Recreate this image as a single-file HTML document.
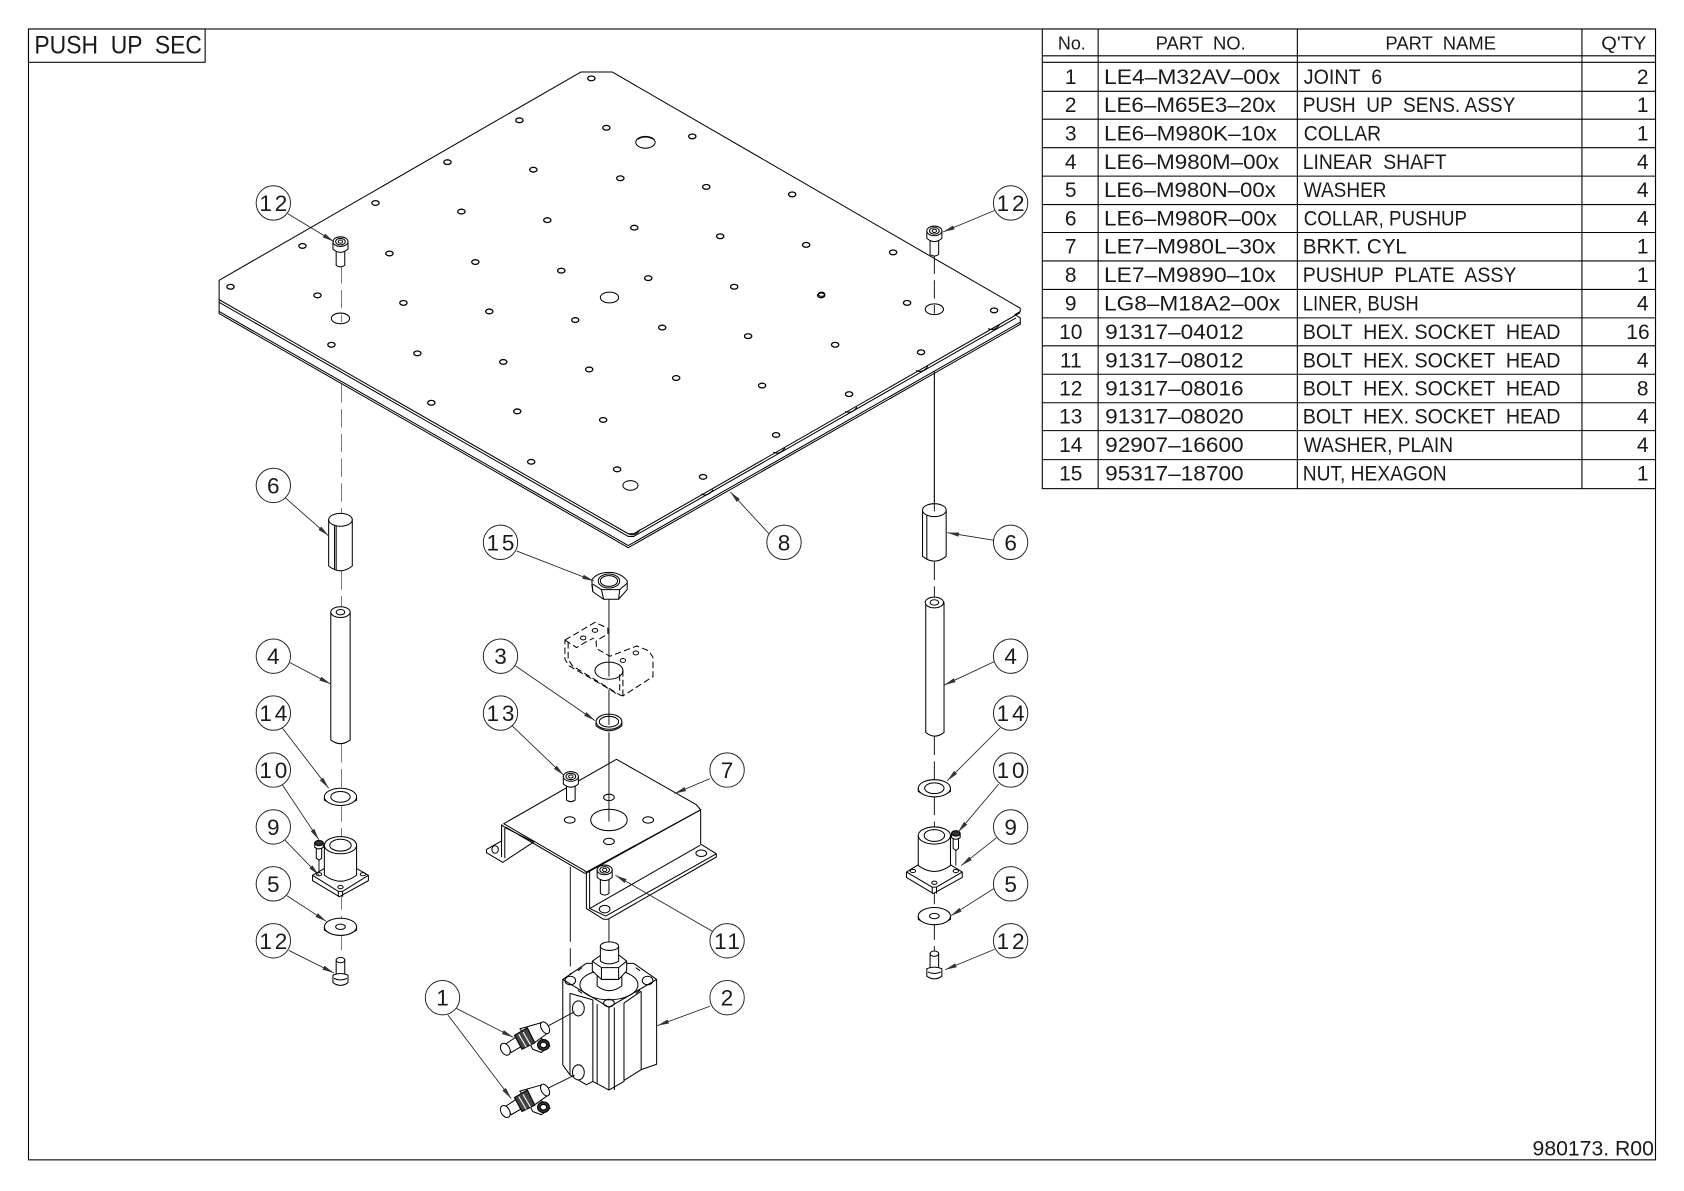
<!DOCTYPE html>
<html><head><meta charset="utf-8"><title>PUSH UP SEC</title>
<style>
html,body{margin:0;padding:0;background:#fff}
svg{display:block}
text{font-family:"Liberation Sans",sans-serif;fill:#1a1a1a;white-space:pre}
.t{font-size:19.5px}
.c{font-size:21px;text-anchor:middle}
.r{text-anchor:end}
.m{text-anchor:middle}
.l{fill:none;stroke:#000;stroke-width:.9}
.p{fill:#fff;stroke:#000;stroke-width:.95;stroke-linejoin:round}
.n{fill:none;stroke:#000;stroke-width:.95;stroke-linejoin:round}
.g{fill:none;stroke:#666;stroke-width:.8;stroke-dasharray:17 6}
.k{fill:none;stroke:#111;stroke-width:.9;stroke-dasharray:17 6}
.s{fill:none;stroke:#111;stroke-width:.9}
.d{fill:none;stroke:#000;stroke-width:.95;stroke-dasharray:6 3}
.b{fill:#fff;stroke:#222;stroke-width:.9}
.a{fill:none;stroke:#222;stroke-width:.8;marker-end:url(#ar)}
.tb{stroke:#000;stroke-width:1;fill:none}
</style></head><body>
<svg xmlns="http://www.w3.org/2000/svg" width="1684" height="1191" viewBox="0 0 1568 1109">
<defs>
<marker id="ar" markerUnits="userSpaceOnUse" markerWidth="12" markerHeight="6" refX="11" refY="3" orient="auto"><path d="M0,1 L11,3 L0,5 Z" fill="#333"/></marker>
<ellipse id="h" rx="3.4" ry="2.2" fill="#fff" stroke="#000" stroke-width="1.2"/>
<g id="boltT">
<path class="p" d="M-4,8 V21 Q0,24 4,21 V8 Z"/>
<path class="p" d="M-7,-1 V6 Q0,12 7,6 V-1 Z"/>
<ellipse class="p" cx="0" cy="-1" rx="7" ry="4.5"/>
<ellipse class="n" cx="0" cy="-1" rx="4.5" ry="3"/>
<ellipse class="n" cx="0" cy="-1" rx="2" ry="1.5"/>
</g>
<g id="boltS">
<path class="p" d="M-2.5,3 V13 L0,15 L2.5,13 V3 Z"/>
<path class="p" d="M-4,-1 V3 Q0,6 4,3 V-1 Z"/>
<ellipse fill="#333" stroke="#000" cx="0" cy="-1" rx="4" ry="2.5"/>
</g>
<g id="boltB">
<path class="p" d="M-4,-10 V6 H4 V-10 Z"/>
<ellipse class="p" cx="0" cy="-10" rx="4" ry="2.5"/>
<path class="p" d="M-7,4 V11 Q0,16 7,11 V4 Q0,1 -7,4 Z"/>
<path class="n" d="M-6,7 Q0,10 6,7"/>
</g>
<g id="fit">
<path class="p" d="M4,2 L15,-1 L24,7 L16,13 L8,10 Z"/>
<path class="p" d="M-4,-9 L17,-15 L22,-5 L8,5 Z"/>
<ellipse class="p" cx="19.500" cy="-10" rx="3.500" ry="6" transform="rotate(-30 19.500 -10)"/>
<path class="p" d="M-17,5 L-5,-3 L0,6 L-12,13 Z"/>
<path d="M-9,-3 L3,-10 L10,4 L-2,10 Z" fill="#444" stroke="#000"/>
<path d="M-5,-4 L2,8 M-1,-6 L6,6" stroke="#fff" stroke-width="1" fill="none"/>
<ellipse class="p" cx="-17.500" cy="10" rx="4" ry="6" transform="rotate(-30 -17.500 10)"/>
<ellipse cx="18" cy="6" rx="5.500" ry="5" fill="#333" stroke="#000"/>
<ellipse cx="18" cy="6" rx="3" ry="2.600" fill="#fff" stroke="#000"/>
</g>
</defs>
<rect width="1568" height="1109" fill="#fff"/>

<!-- frame -->
<rect x="26.5" y="27" width="1515" height="1053" class="tb"/>
<rect x="26.5" y="27" width="164.5" height="31" class="tb"/>
<text x="32" y="50" style="font-size:23.5px" textLength="156" lengthAdjust="spacingAndGlyphs">PUSH  UP  SEC</text>
<text x="1540" y="1076" class="r" style="font-size:19.5px" textLength="113" lengthAdjust="spacingAndGlyphs">980173. R00</text>

<!-- table -->
<g class="tb">
<rect x="970.5" y="27" width="571" height="428"/>
<path d="M1022.5,27V455M1208,27V455M1473,27V455"/>
<path d="M970.5,52H1541.5M970.5,58H1541.5M970.5,85H1541.5M970.5,111H1541.5M970.5,137.5H1541.5M970.5,164H1541.5M970.5,190.5H1541.5M970.5,216.5H1541.5M970.5,243H1541.5M970.5,269.5H1541.5M970.5,296H1541.5M970.5,322H1541.5M970.5,348.5H1541.5M970.5,375H1541.5M970.5,401H1541.5M970.5,428H1541.5"/>
</g>
<g class="t">
<text x="985" y="46" style="font-size:17px" textLength="26" lengthAdjust="spacingAndGlyphs">No.</text>
<text x="1076" y="46" style="font-size:17px" textLength="84" lengthAdjust="spacingAndGlyphs">PART  NO.</text>
<text x="1290" y="46" style="font-size:17px" textLength="103" lengthAdjust="spacingAndGlyphs">PART  NAME</text>
<text x="1491" y="46" style="font-size:17px" textLength="42" lengthAdjust="spacingAndGlyphs">Q'TY</text>

<text x="997" y="78" class="m">1</text><text x="1028" y="78" textLength="164" lengthAdjust="spacingAndGlyphs">LE4–M32AV–00x</text><text x="1214" y="78" textLength="73" lengthAdjust="spacingAndGlyphs">JOINT  6</text><text x="1535" y="78" class="r">2</text>
<text x="997" y="104.500" class="m">2</text><text x="1028" y="104.500" textLength="160" lengthAdjust="spacingAndGlyphs">LE6–M65E3–20x</text><text x="1213" y="104.500" textLength="198" lengthAdjust="spacingAndGlyphs">PUSH  UP  SENS. ASSY</text><text x="1535" y="104.500" class="r">1</text>
<text x="997" y="131" class="m">3</text><text x="1028" y="131" textLength="161" lengthAdjust="spacingAndGlyphs">LE6–M980K–10x</text><text x="1214" y="131" textLength="72" lengthAdjust="spacingAndGlyphs">COLLAR</text><text x="1535" y="131" class="r">1</text>
<text x="997" y="157.500" class="m">4</text><text x="1028" y="157.500" textLength="163" lengthAdjust="spacingAndGlyphs">LE6–M980M–00x</text><text x="1213" y="157.500" textLength="134" lengthAdjust="spacingAndGlyphs">LINEAR  SHAFT</text><text x="1535" y="157.500" class="r">4</text>
<text x="997" y="183.500" class="m">5</text><text x="1028" y="183.500" textLength="160" lengthAdjust="spacingAndGlyphs">LE6–M980N–00x</text><text x="1214" y="183.500" textLength="77" lengthAdjust="spacingAndGlyphs">WASHER</text><text x="1535" y="183.500" class="r">4</text>
<text x="997" y="210" class="m">6</text><text x="1028" y="210" textLength="161" lengthAdjust="spacingAndGlyphs">LE6–M980R–00x</text><text x="1214" y="210" textLength="152" lengthAdjust="spacingAndGlyphs">COLLAR, PUSHUP</text><text x="1535" y="210" class="r">4</text>
<text x="997" y="236" class="m">7</text><text x="1028" y="236" textLength="160" lengthAdjust="spacingAndGlyphs">LE7–M980L–30x</text><text x="1213" y="236" textLength="97" lengthAdjust="spacingAndGlyphs">BRKT. CYL</text><text x="1535" y="236" class="r">1</text>
<text x="997" y="262.500" class="m">8</text><text x="1028" y="262.500" textLength="160" lengthAdjust="spacingAndGlyphs">LE7–M9890–10x</text><text x="1213" y="262.500" textLength="199" lengthAdjust="spacingAndGlyphs">PUSHUP  PLATE  ASSY</text><text x="1535" y="262.500" class="r">1</text>
<text x="997" y="289" class="m">9</text><text x="1028" y="289" textLength="164" lengthAdjust="spacingAndGlyphs">LG8–M18A2–00x</text><text x="1213" y="289" textLength="108" lengthAdjust="spacingAndGlyphs">LINER, BUSH</text><text x="1535" y="289" class="r">4</text>
<text x="997" y="315.500" class="m">10</text><text x="1029" y="315.500" textLength="129" lengthAdjust="spacingAndGlyphs">91317–04012</text><text x="1213" y="315.500" textLength="240" lengthAdjust="spacingAndGlyphs">BOLT  HEX. SOCKET  HEAD</text><text x="1536" y="315.500" class="r">16</text>
<text x="997" y="342" class="m">11</text><text x="1029" y="342" textLength="129" lengthAdjust="spacingAndGlyphs">91317–08012</text><text x="1213" y="342" textLength="240" lengthAdjust="spacingAndGlyphs">BOLT  HEX. SOCKET  HEAD</text><text x="1535" y="342" class="r">4</text>
<text x="997" y="368.500" class="m">12</text><text x="1029" y="368.500" textLength="129" lengthAdjust="spacingAndGlyphs">91317–08016</text><text x="1213" y="368.500" textLength="240" lengthAdjust="spacingAndGlyphs">BOLT  HEX. SOCKET  HEAD</text><text x="1535" y="368.500" class="r">8</text>
<text x="997" y="394.500" class="m">13</text><text x="1029" y="394.500" textLength="129" lengthAdjust="spacingAndGlyphs">91317–08020</text><text x="1213" y="394.500" textLength="240" lengthAdjust="spacingAndGlyphs">BOLT  HEX. SOCKET  HEAD</text><text x="1535" y="394.500" class="r">4</text>
<text x="997" y="421" class="m">14</text><text x="1029" y="421" textLength="129" lengthAdjust="spacingAndGlyphs">92907–16600</text><text x="1214" y="421" textLength="139" lengthAdjust="spacingAndGlyphs">WASHER, PLAIN</text><text x="1535" y="421" class="r">4</text>
<text x="997" y="447.500" class="m">15</text><text x="1029" y="447.500" textLength="129" lengthAdjust="spacingAndGlyphs">95317–18700</text><text x="1213" y="447.500" textLength="134" lengthAdjust="spacingAndGlyphs">NUT, HEXAGON</text><text x="1535" y="447.500" class="r">1</text>
</g>

<!-- plate -->
<path class="p" d="M204,261 V292 L585,510 L950,302 V296 L945,293 L950,290 V287 L570,67 H541 Z"/>
<path class="n" d="M204,279 L585,497 L590,497 L950,291" stroke-width="1.1"/>
<path class="n" d="M204,281.500 L585,499.500 L590,499.500 L946,296" stroke-width="1.1"/>
<path class="n" d="M204,290 L585,508 L950,300" stroke-width="1.1"/>
<path class="n" d="M585,497 Q592,500 596,493 M653,460 Q659,463 664,456 M720,421 Q726,424 731,417 M787,383 Q793,386 798,379 M853,345 Q859,348 864,341 M920,306 Q926,309 931,302"/>
<g transform="translate(.6,0)">
<use href="#h" x="214" y="267"/><use href="#h" x="281" y="229"/><use href="#h" x="295" y="275"/><use href="#h" x="308" y="321"/>
<use href="#h" x="349" y="189"/><use href="#h" x="362" y="236"/><use href="#h" x="375" y="282"/><use href="#h" x="388" y="329"/><use href="#h" x="401" y="375"/>
<use href="#h" x="416" y="151"/><use href="#h" x="429" y="197"/><use href="#h" x="442" y="244"/><use href="#h" x="455" y="290"/><use href="#h" x="468" y="337"/><use href="#h" x="481" y="383"/><use href="#h" x="494" y="430"/>
<use href="#h" x="483" y="112"/><use href="#h" x="496" y="158"/><use href="#h" x="509" y="205"/><use href="#h" x="522" y="252"/><use href="#h" x="535" y="298"/><use href="#h" x="548" y="344"/><use href="#h" x="561" y="391"/><use href="#h" x="574" y="437"/>
<use href="#h" x="550" y="73"/><use href="#h" x="564" y="119"/><use href="#h" x="577" y="166"/><use href="#h" x="590" y="212"/><use href="#h" x="603" y="259"/><use href="#h" x="616" y="305"/><use href="#h" x="629" y="352"/><use href="#h" x="654" y="444"/>
<use href="#h" x="644" y="127"/><use href="#h" x="657" y="174"/><use href="#h" x="670" y="220"/><use href="#h" x="683" y="267"/><use href="#h" x="696" y="313"/><use href="#h" x="709" y="359"/><use href="#h" x="722" y="405"/>
<use href="#h" x="737" y="181"/><use href="#h" x="750" y="228"/><use href="#h" x="764" y="275"/><use href="#h" x="777" y="321"/><use href="#h" x="790" y="367"/>
<use href="#h" x="831" y="235"/><use href="#h" x="844" y="282"/><use href="#h" x="857" y="328"/><use href="#h" x="925" y="289"/>
</g>
<ellipse class="n" cx="765" cy="274" rx="3" ry="2"/>
<ellipse class="p" cx="601" cy="132.500" rx="9" ry="5.500"/><path class="n" d="M593,130 Q601,125 609,130"/>
<ellipse class="p" cx="567.500" cy="277" rx="8.500" ry="5"/>
<ellipse class="p" cx="317" cy="296.500" rx="8.500" ry="5"/>
<ellipse class="p" cx="870" cy="288" rx="8.500" ry="5"/>
<ellipse class="p" cx="587" cy="452" rx="7" ry="4.500"/>

<!-- centre lines -->
<path class="g" d="M318,247V300M318,358V486M318,532V570M318,693V745M318,748V790M318,830V862M318,868V893"/>
<path class="k" d="M870,238V292M870,523V561M870,686V734M870,742V782M870,825V850M870,858V890"/>
<path class="s" d="M870,346V476M567,558V630M567,642V672M567,682V765"/>
<path class="s" d="M531,807V860M567,856V880"/>
<path class="k" d="M531,860V912M531,746V762M563,828V846M297,797V812M890,790V806"/>

<!-- left stack -->
<use href="#boltT" x="317" y="226"/>
<path class="p" d="M306,484 V527 Q317,536 328,527 V484 Z"/>
<ellipse class="p" cx="317" cy="484" rx="11" ry="6"/>
<path class="n" d="M313,490V531M311.500,489V530" stroke-width="1.3"/>
<path class="p" d="M308,570 V689 Q317,696 326,689 V570 Z"/>
<ellipse class="p" cx="317" cy="570" rx="9" ry="5"/><ellipse class="n" cx="317" cy="570" rx="4" ry="2.500"/>
<path class="p" d="M302,742 V745 Q317,755 332,745 V742 Z"/>
<ellipse class="p" cx="317" cy="742" rx="15" ry="8"/><ellipse class="n" cx="317" cy="742" rx="9" ry="5"/>
<path class="p" d="M291,815 V820 L316,835 L343,820 V815 L317,800 Z"/>
<path class="n" d="M291,815 L315,830 H319 L343,815 M315,830V835M319,830V835"/>
<path class="p" d="M302,787 V815 Q317,826 332,815 V787 Z"/>
<ellipse class="p" cx="317" cy="787" rx="15" ry="8"/><ellipse class="n" cx="317" cy="787" rx="10" ry="5.500"/>
<ellipse class="n" cx="297" cy="814" rx="2.500" ry="1.500"/><ellipse class="n" cx="338" cy="814" rx="2.500" ry="1.500"/><ellipse class="n" cx="317" cy="826" rx="2.500" ry="1.500"/>
<use href="#boltS" x="297" y="786"/>
<path class="p" d="M302,863 V866 Q317,876 332,866 V863 Z"/>
<ellipse class="p" cx="317" cy="863" rx="15" ry="8"/><ellipse class="n" cx="317" cy="863" rx="4.500" ry="2.500"/>
<use href="#boltB" x="317" y="904"/>

<!-- right stack -->
<use href="#boltT" x="870" y="216"/>
<path class="p" d="M859,475 V518 Q870,527 881,518 V475 Z"/>
<ellipse class="p" cx="870" cy="475" rx="11" ry="6"/>
<path class="n" d="M863,480V521"/>
<path class="s" d="M870,346V476"/>
<path class="p" d="M862,561 V682 Q870,689 879,682 V561 Z"/>
<ellipse class="p" cx="870" cy="561" rx="8.500" ry="5"/><ellipse class="n" cx="870" cy="561" rx="4" ry="2.500"/>
<path class="p" d="M855,734 V737 Q870,747 885,737 V734 Z"/>
<ellipse class="p" cx="870" cy="734" rx="15" ry="8"/><ellipse class="n" cx="870" cy="734" rx="9" ry="5"/>
<path class="p" d="M844,812 V817 L869,832 L896,817 V812 L870,796 Z"/>
<path class="n" d="M844,812 L868,826 H872 L896,812 M868,826V832M872,826V832"/>
<path class="p" d="M855,778 V806 Q870,817 885,806 V778 Z"/>
<ellipse class="p" cx="870" cy="778" rx="15" ry="8"/><ellipse class="n" cx="870" cy="778" rx="9.500" ry="5.500"/>
<ellipse class="n" cx="850" cy="811" rx="2.500" ry="1.500"/><ellipse class="n" cx="890" cy="811" rx="2.500" ry="1.500"/><ellipse class="n" cx="870" cy="822" rx="2.500" ry="1.500"/>
<use href="#boltS" x="890" y="777"/>
<path class="p" d="M855,853 V856 Q870,866 885,856 V853 Z"/>
<ellipse class="p" cx="870" cy="853" rx="15" ry="8"/><ellipse class="n" cx="870" cy="853" rx="4.500" ry="2.500"/>
<use href="#boltB" x="870" y="898"/>

<!-- nut 15 -->
<path class="p" d="M551,540 Q556,533 567,533 Q578,533 584,541 V549 L576,558 H562 L552,551 Z"/>
<path class="n" d="M552,551 L551,544 M562,558 L560,549 L552,544 M576,558 L577,549 L584,543 M560,549 H577"/>
<ellipse class="p" cx="567" cy="541" rx="10" ry="6.500"/><ellipse class="n" cx="567" cy="541" rx="8" ry="5"/>

<!-- dashed bracket -->
<path class="d" d="M526,596 L554,579.500 L566,585 V590 L555,597 L555.500,604 L568,611 L593,601.500 L604,606 L608,612 V630 L580,648 L574,646 L568,642 L530,620 L526,614 Z"/>
<path class="d" d="M529,598 V614 L533,620 L577,647 M526,596 L537,603 L545,598 L553,594 M580,624 V648 M577,628 V646"/>
<ellipse class="n" cx="567" cy="624.500" rx="13" ry="8"/>
<ellipse class="n" cx="543" cy="594" rx="2.500" ry="1.800"/><ellipse class="n" cx="554" cy="587" rx="2.500" ry="1.800"/><ellipse class="n" cx="580" cy="615" rx="2.500" ry="1.800"/><ellipse class="n" cx="592" cy="608" rx="2.500" ry="1.800"/>

<!-- collar 3 -->
<path class="p" d="M555,672 V676 Q567,685 579,676 V672 Z"/>
<ellipse class="p" cx="567" cy="672" rx="12" ry="7"/><ellipse class="n" cx="567" cy="672" rx="9" ry="5"/>
<path class="s" d="M567,664V675"/>

<!-- bracket 7 -->
<path class="p" d="M467,783 L453,791 V794 L468,803 L497,784 L471,771 L467,768 Z"/>
<path class="n" d="M467,768 V798 M470,771 V799"/>
<ellipse class="p" cx="461" cy="791" rx="3" ry="3.500"/>
<path class="p" d="M652.400,754 V786 L667,795 V798 L566,856 H562 L546,846 V813 Z"/>
<path class="n" d="M549,811 V846 L564,853 L667,795 M549,846 L652,787"/>
<path class="p" d="M469,767 L574,707 L648,749 L652.400,754 L546,812 L544,810.500 Z"/>
<path class="n" d="M470.500,770 L544,813 L546,813"/>
<ellipse class="p" cx="653" cy="794.500" rx="5" ry="3"/>
<ellipse class="p" cx="563" cy="846.500" rx="5" ry="3.500"/>
<ellipse class="p" cx="567" cy="763.500" rx="17" ry="10"/>
<ellipse class="p" cx="567" cy="742.500" rx="5" ry="3"/>
<ellipse class="p" cx="530.500" cy="763.500" rx="5" ry="3"/>
<ellipse class="p" cx="603.500" cy="763.500" rx="5" ry="3"/>
<ellipse class="p" cx="567" cy="783.500" rx="5" ry="3"/>
<path class="s" d="M567,682V765"/>
<use href="#boltT" x="531.500" y="724"/>
<use href="#boltT" x="563" y="811"/>

<!-- cylinder 2 -->
<path class="p" d="M524,912 L546,897 H590 L611.400,912 V991 L597,996 L581,1006 V1007 L567,1015 L554,1008 L552,1007 L546,1010 L530.700,1001 L524,991.600 Z"/>
<path class="n" d="M524,912 L567,938 L611.400,912"/>
<path class="n" d="M530.700,925 V1001 M530.700,925 L552,931 M552,931 V1007 M556,935 V1009 M567,938 V1015 M572,938 V1015 M581,934 V1006 M597,923 V996 M597,923 L581,934"/>
<ellipse class="p" cx="538.500" cy="939" rx="5.500" ry="7"/>
<ellipse class="p" cx="538.500" cy="998.500" rx="5.500" ry="7"/>
<ellipse class="n" cx="567" cy="917" rx="27" ry="14"/>
<ellipse class="n" cx="531" cy="913" rx="5" ry="4"/>
<ellipse class="n" cx="603" cy="913" rx="5" ry="4"/>
<ellipse class="n" cx="567" cy="934" rx="5" ry="3.500"/>
<path class="n" d="M538,904 l4,-3 M596,904 l-4,-3 M538,922 l4,3 M596,922 l-4,3"/>
<path class="p" d="M556,905 V918 Q567,927 579,918 V905 Z"/>
<path class="p" d="M551.500,895 L560,889 H576 L583.500,895 V904 L576,912 H560 L551.500,904 Z"/>
<path class="n" d="M551.500,895 L560,901 H576 L583.500,895 M560,901 V912 M576,901 V912"/>
<path class="p" d="M559,881 V895 Q567,900 576,895 V881 Z"/>
<ellipse class="p" cx="567.500" cy="881" rx="8.500" ry="4"/>
<path class="s" d="M509,956 L535,942 M509,1014 L535,1001"/>
<use href="#fit" x="488" y="967"/>
<use href="#fit" x="488" y="1025"/>

<!-- leaders -->
<path class="a" d="M268,199L311,225"/>
<path class="a" d="M926,196L878,216"/>
<path class="a" d="M265,463L306,499"/>
<path class="a" d="M270,617L308,637"/>
<path class="a" d="M263,678L306,734"/>
<path class="a" d="M263,731L297,782"/>
<path class="a" d="M265,782L297,815"/>
<path class="a" d="M267,834L304,858"/>
<path class="a" d="M269,885L311,906"/>
<path class="a" d="M481,513L553,541"/>
<path class="a" d="M480,620L554,671"/>
<path class="a" d="M477,676L525,722"/>
<path class="a" d="M661,725L628,739"/>
<path class="a" d="M663,867L573,815"/>
<path class="a" d="M661,937L612,955"/>
<path class="a" d="M425,939L478,966"/>
<path class="a" d="M417,945L476,1023"/>
<path class="a" d="M716,497L680,458"/>
<path class="a" d="M925,503L882,496"/>
<path class="a" d="M926,616L879,638"/>
<path class="a" d="M931,678L882,727"/>
<path class="a" d="M930,730L892,775"/>
<path class="a" d="M928,780L895,806"/>
<path class="a" d="M926,827L885,853"/>
<path class="a" d="M926,884L880,903"/>

<!-- balloons -->
<g>
<circle class="b" cx="254.500" cy="189" r="16"/><text class="c" x="254.500" y="196.500" textLength="26" lengthAdjust="spacing">12</text>
<circle class="b" cx="254.500" cy="452" r="16"/><text class="c" x="254.500" y="459.500">6</text>
<circle class="b" cx="254.500" cy="611" r="16"/><text class="c" x="254.500" y="618.500">4</text>
<circle class="b" cx="254.500" cy="664" r="16"/><text class="c" x="254.500" y="671.500" textLength="26" lengthAdjust="spacing">14</text>
<circle class="b" cx="254.500" cy="717" r="16"/><text class="c" x="254.500" y="724.500" textLength="26" lengthAdjust="spacing">10</text>
<circle class="b" cx="254.500" cy="770" r="16"/><text class="c" x="254.500" y="777.500">9</text>
<circle class="b" cx="254.500" cy="823" r="16"/><text class="c" x="254.500" y="830.500">5</text>
<circle class="b" cx="254.500" cy="876" r="16"/><text class="c" x="254.500" y="883.500" textLength="26" lengthAdjust="spacing">12</text>
<circle class="b" cx="466" cy="505" r="16"/><text class="c" x="466" y="512.500" textLength="26" lengthAdjust="spacing">15</text>
<circle class="b" cx="466" cy="611" r="16"/><text class="c" x="466" y="618.500">3</text>
<circle class="b" cx="466" cy="664" r="16"/><text class="c" x="466" y="671.500" textLength="26" lengthAdjust="spacing">13</text>
<circle class="b" cx="730" cy="505" r="16"/><text class="c" x="730" y="512.500">8</text>
<circle class="b" cx="677" cy="717" r="16"/><text class="c" x="677" y="724.500">7</text>
<circle class="b" cx="677" cy="876" r="16"/><text class="c" x="677" y="883.500" textLength="24" lengthAdjust="spacing">11</text>
<circle class="b" cx="677" cy="929" r="16"/><text class="c" x="677" y="936.500">2</text>
<circle class="b" cx="412" cy="929" r="16"/><text class="c" x="412" y="936.500">1</text>
<circle class="b" cx="941" cy="189" r="16"/><text class="c" x="941" y="196.500" textLength="26" lengthAdjust="spacing">12</text>
<circle class="b" cx="941" cy="505" r="16"/><text class="c" x="941" y="512.500">6</text>
<circle class="b" cx="941" cy="611" r="16"/><text class="c" x="941" y="618.500">4</text>
<circle class="b" cx="941" cy="664" r="16"/><text class="c" x="941" y="671.500" textLength="26" lengthAdjust="spacing">14</text>
<circle class="b" cx="941" cy="717" r="16"/><text class="c" x="941" y="724.500" textLength="26" lengthAdjust="spacing">10</text>
<circle class="b" cx="941" cy="770" r="16"/><text class="c" x="941" y="777.500">9</text>
<circle class="b" cx="941" cy="823" r="16"/><text class="c" x="941" y="830.500">5</text>
<circle class="b" cx="941" cy="876" r="16"/><text class="c" x="941" y="883.500" textLength="26" lengthAdjust="spacing">12</text>
</g>
</svg>
</body></html>
